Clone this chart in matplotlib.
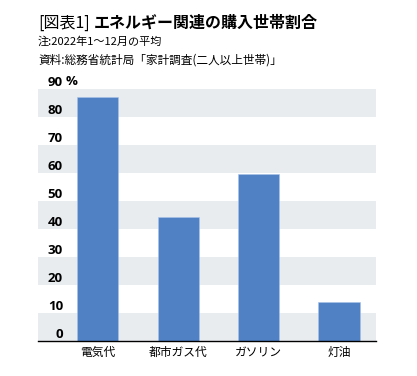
import matplotlib
matplotlib.use("Agg")
import matplotlib.pyplot as plt

categories = ["電気代", "都市ガス代", "ガソリン", "灯油"]
values = [87.0, 44.1, 59.5, 13.8]
yticks = [0, 10, 20, 30, 40, 50, 60, 70, 80, 90]
ytick_labels = ["0", "10", "20", "30", "40", "50", "60", "70", "80", "90"]

JP = ["Noto Sans CJK JP", "DejaVu Sans"]
BAR = "#4F81C4"
BAND = "#E9ECEF"

fig = plt.figure(figsize=(4.17, 3.76), dpi=100)
ax = fig.add_axes([38 / 417, 35.3 / 376, 338 / 417, 252 / 376])

# alternating bands
for lo in range(0, 90, 20):
    ax.axhspan(lo, lo + 10, color=BAND, lw=0, zorder=0)

x = range(len(categories))
ax.bar(x, values, width=0.51, color=BAR, edgecolor="#A9C4E8", linewidth=0.4, zorder=2)

ax.set_xlim(-0.74, 3.46)
ax.set_ylim(0, 90)
ax.set_xticks(list(x), categories, fontfamily=JP, fontsize=8.5)
ax.set_yticks(yticks, ytick_labels, fontfamily="Open Sans", fontweight="bold", fontsize=9.5)
for lab in ax.get_yticklabels():
    lab.set_va("bottom")
    lab.set_ha("right")
    lab.set_zorder(3)
ax.tick_params(axis="y", length=0, pad=-18)
ax.tick_params(axis="x", length=0, pad=4)

for s in ["top", "right", "left"]:
    ax.spines[s].set_visible(False)
ax.spines["bottom"].set_color("black")
ax.spines["bottom"].set_linewidth(1.0)
ax.spines["bottom"].set_zorder(4)

# unit next to top tick
fig.text(66 / 417, 1 - 88 / 376, "%", fontfamily="Open Sans", fontweight="bold",
         fontsize=9.5, ha="left", va="bottom")

fig.text(38 / 417, 1 - 23 / 376, "[図表1]", fontfamily=JP, fontsize=11.5,
         ha="left", va="center")
fig.text(94 / 417, 1 - 23 / 376, "エネルギー関連の購入世帯割合", fontfamily=JP,
         fontweight="bold", fontsize=11.5, ha="left", va="center")
fig.text(38 / 417, 1 - 41.7 / 376, "注:2022年1～12月の平均", fontfamily=JP,
         fontsize=8, ha="left", va="center")
fig.text(38 / 417, 1 - 60 / 376, "資料:総務省統計局「家計調査(二人以上世帯)」", fontfamily=JP,
         fontsize=8.4, ha="left", va="center")

fig.savefig("out.png", dpi=100)
